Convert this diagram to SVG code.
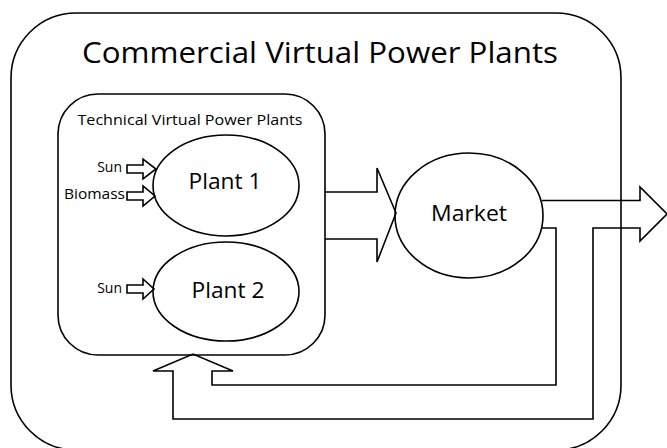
<svg xmlns="http://www.w3.org/2000/svg" width="667" height="448" viewBox="0 0 667 448">
<style>
.s{fill:none;stroke:#000;stroke-width:1.6}
.w{fill:#fff;stroke:#000;stroke-width:1.6}
.t{font-family:"Open Sans","Liberation Sans",sans-serif;fill:#000}
</style>
<rect width="667" height="448" fill="#fff"/>
<g id="commercial-vpp">
<rect class="s" x="11" y="13" width="610" height="437" rx="65"/>
<text class="t" x="320" y="63" font-size="29" text-anchor="middle" textLength="476" lengthAdjust="spacingAndGlyphs">Commercial Virtual Power Plants</text>
</g>
<g id="technical-vpp">
<rect class="s" x="58" y="94" width="267" height="261" rx="40"/>
<text class="t" x="190" y="125" font-size="14.5" text-anchor="middle" textLength="225" lengthAdjust="spacingAndGlyphs">Technical Virtual Power Plants</text>
</g>
<g id="connectors">
<path class="s" d="M325 192H377V168L396 213L377 262V239H325"/>
<path class="s" d="M542 200.5H640V187L667 214L640 241V228H593V419H173V371H153L193 354L233 371H212V385H556V228H542"/>
<path class="s" d="M127 165H143V159L156 169L143 179V173H127Z"/>
<path class="s" d="M127 192H143V186L155 196L143 206V200H127Z"/>
<path class="s" d="M127 285H143V279L154 289L143 299V293H127Z"/>
</g>
<g id="plant1">
<ellipse class="s" cx="226" cy="185.5" rx="73" ry="50.5"/>
<text class="t" x="225" y="189" font-size="21" text-anchor="middle" textLength="73" lengthAdjust="spacingAndGlyphs">Plant 1</text>
</g>
<g id="plant2">
<ellipse class="s" cx="226" cy="291.5" rx="73" ry="49.5"/>
<text class="t" x="228" y="298" font-size="21" text-anchor="middle" textLength="73" lengthAdjust="spacingAndGlyphs">Plant 2</text>
</g>
<g id="market">
<ellipse class="s" cx="469" cy="215.5" rx="74" ry="62.5"/>
<text class="t" x="469" y="221" font-size="21" text-anchor="middle" textLength="76" lengthAdjust="spacingAndGlyphs">Market</text>
</g>
<g id="inputs">
<text class="t" x="122" y="172" font-size="14" text-anchor="end">Sun</text>
<text class="t" x="125" y="199" font-size="14" text-anchor="end" textLength="61" lengthAdjust="spacingAndGlyphs">Biomass</text>
<text class="t" x="122" y="293" font-size="14" text-anchor="end">Sun</text>
</g>
</svg>
